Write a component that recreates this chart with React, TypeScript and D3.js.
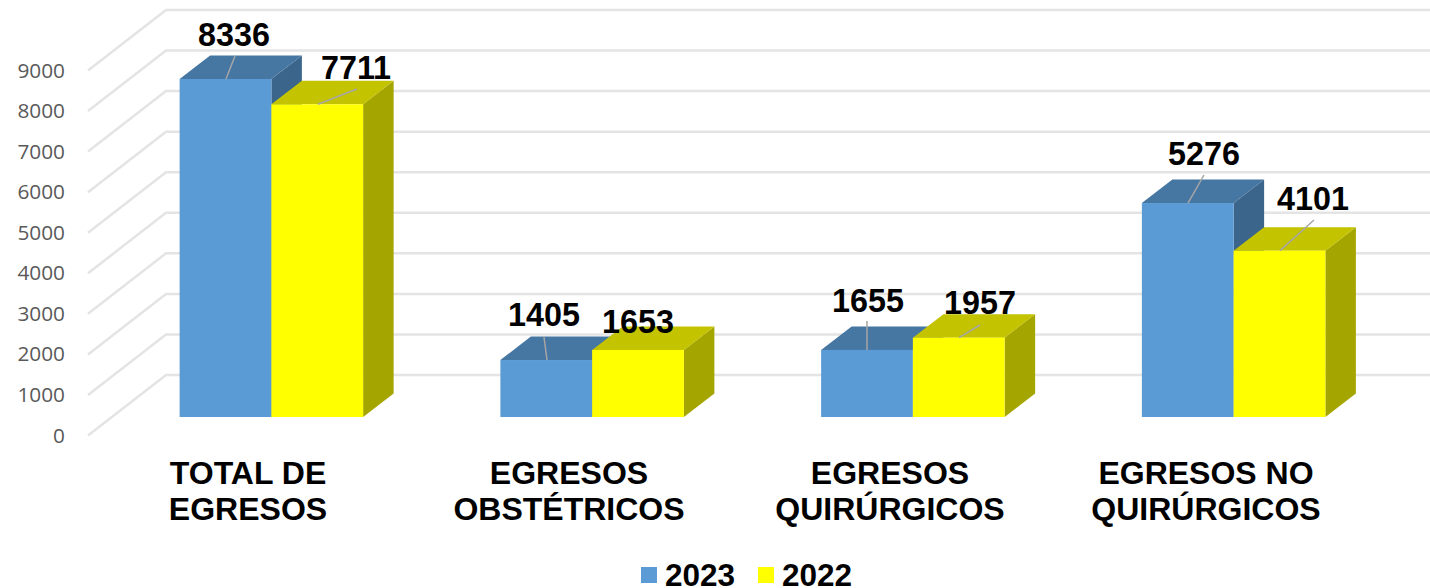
import React from "react";
import * as d3 from "d3";

const categories = [["TOTAL DE", "EGRESOS"], ["EGRESOS", "OBSTÉTRICOS"], ["EGRESOS", "QUIRÚRGICOS"], ["EGRESOS NO", "QUIRÚRGICOS"]];
const seriesNames = ["2023", "2022"];
const values2023 = [8336, 1405, 1655, 5276];
const values2022 = [7711, 1653, 1957, 4101];
const ticks = [0, 1000, 2000, 3000, 4000, 5000, 6000, 7000, 8000, 9000];

// layout-only: [label centre x, label baseline y, leader start x, leader start y, leader end x]
const labelLayout2023 = [[234, 46, 235, 56, 226], [544, 326, 544, 337, 547], [868, 312, 867, 321, 867], [1204, 165, 1204, 175, 1188]];
const labelLayout2022 = [[356, 79, 357, 89, 318], [638, 333, 0, 0, 0], [980, 314, 980, 325, 959], [1313, 210, 1314, 220, 1280]];
const catCentres = [248, 569, 890, 1206];

const colors = [
  { front: "#5B9BD5", top: "#4676A2", side: "#3B658B" },
  { front: "#FFFF00", top: "#C3C300", side: "#A5A500" },
];

const W = 1430, H = 588;
const floorFront = 417;
const y = d3.scaleLinear().domain([0, 9000]).range([floorFront, floorFront - 365]);
const band = d3.scaleBand<number>().domain([0, 1, 2, 3]).range([111, 1394]);
const GROUP = 183.5;
const DX = 30.5, DY = -23.5;       // bar depth
const WALL_DX = 78, WALL_DY = -60.5; // wall depth
const WALL_OFFSET = 18.5;          // front wall edge below the bar floor

const font = "'Liberation Sans', Arial, sans-serif";

function Bar({ x, w, v, c }: { x: number; w: number; v: number; c: typeof colors[0] }) {
  const t = y(v), b = y(0);
  return (
    <g>
      <polygon points={`${x + w},${t} ${x + w + DX},${t + DY} ${x + w + DX},${b + DY} ${x + w},${b}`} fill={c.side} />
      <polygon points={`${x},${t} ${x + DX},${t + DY} ${x + w + DX},${t + DY} ${x + w},${t}`} fill={c.top} />
      <rect x={x} y={t} width={w} height={b - t} fill={c.front} />
    </g>
  );
}

export default function App() {
  const series = [values2023, values2022];
  const layouts = [labelLayout2023, labelLayout2022];
  return (
    <svg width={W} height={H} viewBox={`0 0 ${W} ${H}`} style={{ position: "absolute", left: 0, top: 0, background: "#fff" }}>
      {ticks.map((t) => {
        const fy = y(t) + WALL_OFFSET;
        return (
          <g key={t}>
            <polyline points={`88,${fy} ${88 + WALL_DX},${fy + WALL_DY} ${W},${fy + WALL_DY}`} fill="none" stroke="#E4E4E4" strokeWidth={2.5} />
            <text x={65} y={fy + 7} textAnchor="end" fontFamily="'Open Sans', sans-serif" fontSize={20.8} fill="#595959">{t}</text>
          </g>
        );
      })}
      {categories.map((_, i) => {
        const groupX = band(i)! + (band.bandwidth() - GROUP) / 2;
        const w = GROUP / 2;
        return (
          <g key={i}>
            <Bar x={groupX} w={w} v={series[0][i]} c={colors[0]} />
            <Bar x={groupX + w} w={w} v={series[1][i]} c={colors[1]} />
          </g>
        );
      })}
      {series.map((vals, s) => vals.map((v, i) => {
        const l = layouts[s][i];
        return (
          <g key={`${s}-${i}`}>
            {l[2] > 0 && <line x1={l[2]} y1={l[3]} x2={l[4]} y2={y(v)} stroke="#A6A6A6" strokeWidth={1.5} />}
            <text x={l[0]} y={l[1]} textAnchor="middle" fontFamily={font} fontWeight="bold" fontSize={32.3} fill="#000">{v}</text>
          </g>
        );
      }))}
      {categories.map((c, i) => (
        <text key={i} textAnchor="middle" fontFamily={font} fontWeight="bold" fontSize={32} fill="#000">
          <tspan x={catCentres[i]} y={484}>{c[0]}</tspan>
          <tspan x={catCentres[i]} y={520}>{c[1]}</tspan>
        </text>
      ))}
      {seriesNames.map((n, i) => (
        <g key={n}>
          <rect x={641 + i * 117} y={567} width={16} height={16} fill={colors[i].front} />
          <text x={665 + i * 117} y={585.5} fontFamily={font} fontWeight="bold" fontSize={31.5} fill="#000">{n}</text>
        </g>
      ))}
    </svg>
  );
}
